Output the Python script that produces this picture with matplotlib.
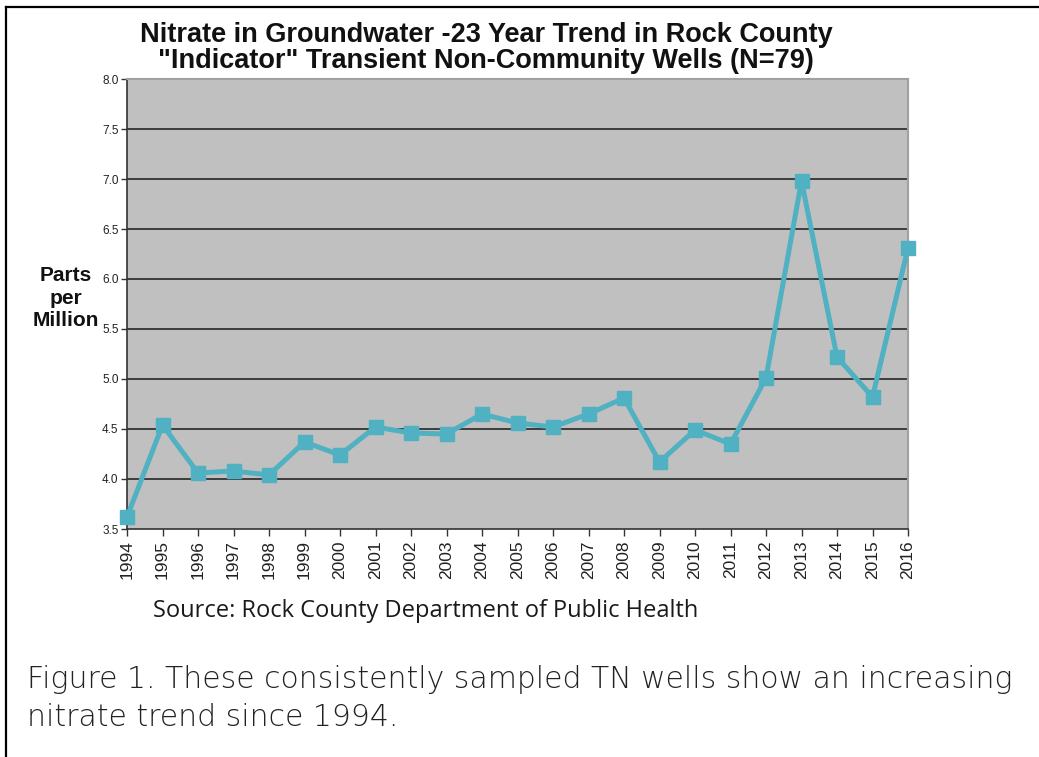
import matplotlib
matplotlib.use("Agg")
import matplotlib.pyplot as plt
from matplotlib.lines import Line2D

years = list(range(1994, 2017))
nitrate_ppm = [3.62, 4.54, 4.06, 4.08, 4.04, 4.37, 4.24, 4.52, 4.46, 4.45,
               4.65, 4.56, 4.52, 4.65, 4.81, 4.17, 4.49, 4.35, 5.01, 6.98,
               5.22, 4.82, 6.31]
y_ticks = [3.5, 4.0, 4.5, 5.0, 5.5, 6.0, 6.5, 7.0, 7.5, 8.0]

title_text = ('Nitrate in Groundwater -23 Year Trend in Rock County\n'
              '"Indicator" Transient Non-Community Wells (N=79)')
ylabel_text = "Parts\nper\nMillion"
source_text = "Source: Rock County Department of Public Health"
caption_lines = ["Figure 1. These consistently sampled TN wells show an increasing",
                 "nitrate trend since 1994."]

W, H = 1039, 757
fig = plt.figure(figsize=(W / 100, H / 100), dpi=100)
fig.patch.set_facecolor("white")

# plot area in pixel coordinates
left, right, top, bottom = 127, 908, 79, 529
ax = fig.add_axes([left / W, 1 - bottom / H, (right - left) / W, (bottom - top) / H])
ax.set_facecolor("#c0c0c0")

line_color = "#4fb1c1"
ax.plot(years, nitrate_ppm, color=line_color, lw=3.6, marker="s", ms=10,
        mfc=line_color, mec=line_color, zorder=5, clip_on=False)

ax.set_xlim(years[0], years[-1])
ax.set_ylim(y_ticks[0], y_ticks[-1])
ax.set_yticks(y_ticks)
ax.set_yticklabels([f"{v:.1f}" for v in y_ticks], fontsize=8.5,
                   family="Liberation Sans", color="#222222")
ax.set_xticks(years)
ax.set_xticklabels([str(y) for y in years], rotation=90, fontsize=12.5,
                   family="Liberation Sans", color="#222222")
ax.tick_params(axis="y", direction="out", length=4, width=1, color="#333333", pad=2)
ax.tick_params(axis="x", direction="out", length=5, width=1, color="#333333", pad=3)

for v in y_ticks[1:-1]:
    ax.axhline(v, color="#1a1a1a", lw=1.1, zorder=1)

for side in ("top", "right"):
    ax.spines[side].set_color("#a0a0a0")
    ax.spines[side].set_linewidth(1.5)
for side in ("left", "bottom"):
    ax.spines[side].set_color("#333333")
    ax.spines[side].set_linewidth(1.2)

# title
fig.text(486 / W, 1 - 48 / H, title_text, ha="center", va="center",
         fontsize=19.5, fontweight="bold", family="Liberation Sans",
         linespacing=1.05, color="#111111")

# y-axis label
fig.text(66 / W, 1 - 298 / H, ylabel_text, ha="center", va="center",
         fontsize=15, fontweight="bold", family="Liberation Sans",
         linespacing=1.22, color="#111111")

# source note
fig.text(153 / W, 1 - 611 / H, source_text, ha="left", va="center",
         fontsize=17, family="Open Sans", color="#1a1a1a")

# figure caption
for i, line in enumerate(caption_lines):
    fig.text(27 / W, 1 - (679 + 38 * i) / H, line, ha="left", va="center",
             fontsize=21.5, family="DejaVu Sans", color="#222222",
             fontweight="light")

# frame lines along the top and left edges
fig.add_artist(Line2D([6 / W, 1], [1 - 7 / H, 1 - 7 / H], color="black",
                      lw=1.6, transform=fig.transFigure))
fig.add_artist(Line2D([6 / W, 6 / W], [1 - 7 / H, 0], color="black",
                      lw=1.6, transform=fig.transFigure))

fig.savefig("out.png", dpi=100)
